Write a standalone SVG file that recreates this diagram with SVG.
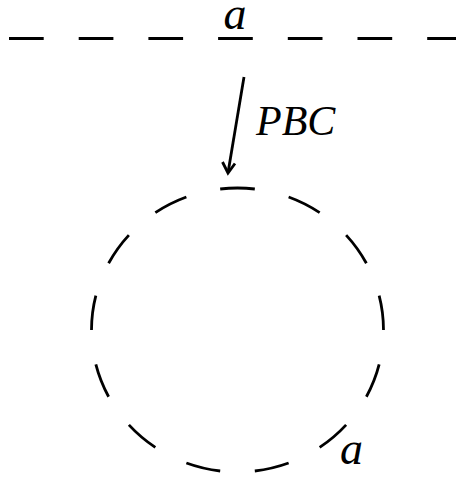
<svg xmlns="http://www.w3.org/2000/svg" width="456" height="480" viewBox="0 0 456 480">
  <style>
    .ln { fill: none; stroke: #000; stroke-width: 2.8; }
    .lbl { font-family: "Liberation Serif", "Times New Roman", serif; font-style: italic; fill: #000; }
  </style>
  <rect width="456" height="480" fill="#fff"/>
  <g id="boundary-top">
    <line class="ln" x1="9" y1="38.5" x2="456" y2="38.5" stroke-dasharray="34.7 35"/>
    <text class="lbl" x="235" y="28.5" font-size="46" text-anchor="middle">a</text>
  </g>
  <g id="boundary-circle">
    <path class="ln" d="M 237.5 188 A 146 142 0 1 1 237.5 472 A 146 142 0 1 1 237.5 188 Z" pathLength="26" stroke-dasharray="1 1" stroke-dashoffset="0.5"/>
    <text class="lbl" x="351.5" y="464" font-size="46" text-anchor="middle">a</text>
  </g>
  <g id="connectors">
    <line class="ln" x1="244" y1="77" x2="228.3" y2="171"/>
    <polyline class="ln" points="222.5,162 228,173 235,163.5" stroke-linejoin="miter"/>
    <text class="lbl" x="256" y="135" font-size="42">PBC</text>
  </g>
</svg>
